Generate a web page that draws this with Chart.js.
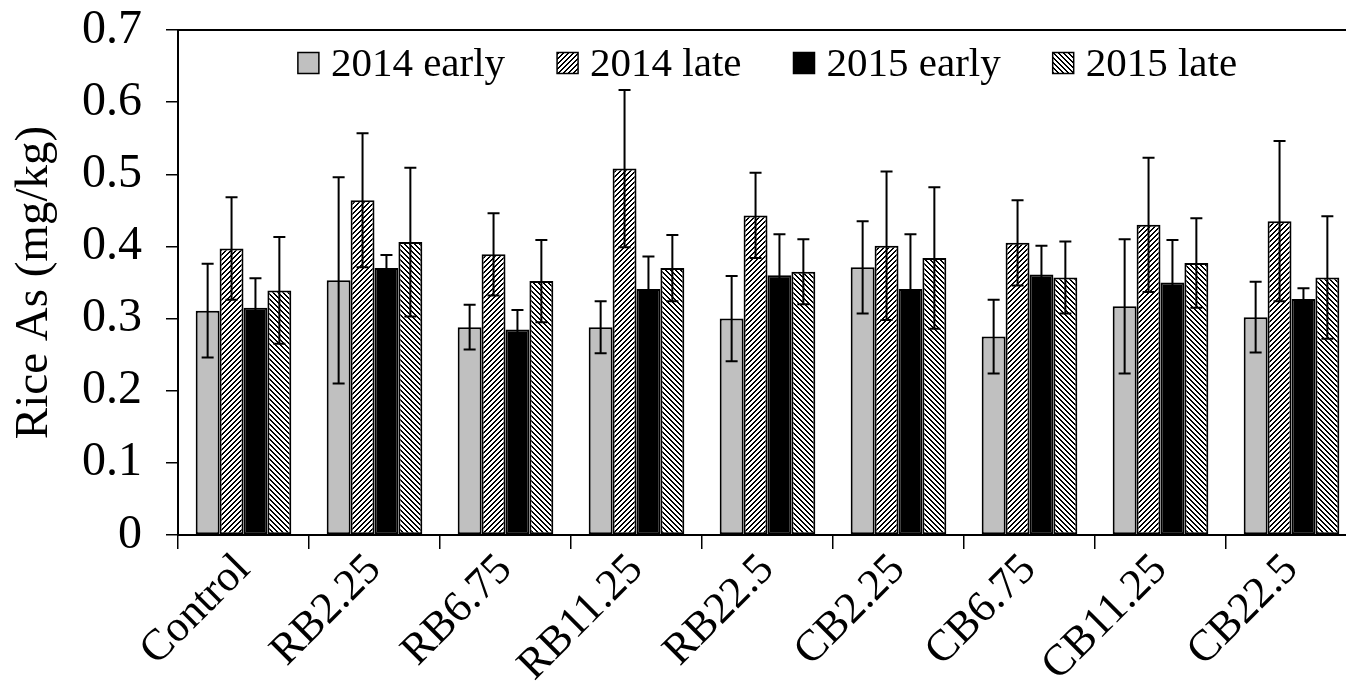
<!DOCTYPE html>
<html>
<head>
<meta charset="utf-8">
<script src="https://cdn.jsdelivr.net/npm/chart.js@4.4.1/dist/chart.umd.min.js"></script>
<style>
  html, body { margin: 0; padding: 0; background: #fff; overflow: hidden; }
  #wrap { width: 1357px; height: 686px; }
</style>
</head>
<body>
<div id="wrap"><canvas id="chart"></canvas></div>
<script>
// treatments on the x axis
const categories = ['Control', 'RB2.25', 'RB6.75', 'RB11.25', 'RB22.5', 'CB2.25', 'CB6.75', 'CB11.25', 'CB22.5'];
const seriesNames = ['2014 early', '2014 late', '2015 early', '2015 late'];

// mean rice As (mg/kg)
const early2014 = [0.311, 0.353, 0.288, 0.288, 0.300, 0.371, 0.275, 0.317, 0.302];
const late2014  = [0.397, 0.464, 0.389, 0.508, 0.443, 0.401, 0.405, 0.430, 0.435];
const early2015 = [0.315, 0.370, 0.285, 0.341, 0.360, 0.341, 0.361, 0.350, 0.327];
const late2015  = [0.339, 0.406, 0.352, 0.370, 0.365, 0.384, 0.357, 0.377, 0.357];

// standard deviations (error bars)
const early2014Err = [0.065, 0.143, 0.031, 0.036, 0.059, 0.064, 0.051, 0.093, 0.049];
const late2014Err  = [0.071, 0.093, 0.057, 0.109, 0.059, 0.103, 0.059, 0.093, 0.111];
const early2015Err = [0.041, 0.018, 0.027, 0.045, 0.057, 0.076, 0.040, 0.059, 0.015];
const late2015Err  = [0.074, 0.103, 0.057, 0.046, 0.045, 0.098, 0.050, 0.062, 0.085];

const yMin = 0, yMax = 0.7, yStep = 0.1;

const FONT = "'Liberation Serif', 'Times New Roman', serif";
const canvas = document.getElementById('chart');
const ctx = canvas.getContext('2d');

// pixel hatch patterns like Excel's diagonal fills
function hatch(dir) {
    const n = 5;
    const c = document.createElement('canvas');
    c.width = n; c.height = n;
    const g = c.getContext('2d');
    const img = g.createImageData(n, n);
    for (let y = 0; y < n; y++) {
        for (let x = 0; x < n; x++) {
            const k = dir === 'up' ? (x + y) % n : ((x - y) % n + n) % n;
            const v = k < 2 ? 0 : 255;
            const i = (y * n + x) * 4;
            img.data[i] = img.data[i + 1] = img.data[i + 2] = v;
            img.data[i + 3] = 255;
        }
    }
    g.putImageData(img, 0, 0);
    return ctx.createPattern(c, 'repeat');
}

const fills = ['#c0c0c0', hatch('up'), '#000000', hatch('down')];
const values = [early2014, late2014, early2015, late2015];
const errors = [early2014Err, late2014Err, early2015Err, late2015Err];

const errorBars = {
    id: 'errorBars',
    afterDatasetsDraw(chart) {
        const c = chart.ctx;
        const y = chart.scales.y;
        c.save();
        c.strokeStyle = '#000';
        c.lineWidth = 2;
        chart.data.datasets.forEach((ds, i) => {
            chart.getDatasetMeta(i).data.forEach((bar, j) => {
                const top = y.getPixelForValue(ds.data[j] + ds.errors[j]);
                const bot = y.getPixelForValue(ds.data[j] - ds.errors[j]);
                c.beginPath();
                c.moveTo(bar.x, top); c.lineTo(bar.x, bot);
                c.moveTo(bar.x - 6, top); c.lineTo(bar.x + 6, top);
                c.moveTo(bar.x - 6, bot); c.lineTo(bar.x + 6, bot);
                c.stroke();
            });
        });
        c.restore();
    }
};

// top border of the plot area + legend drawn inside it
const frameAndLegend = {
    id: 'frameAndLegend',
    afterDraw(chart) {
        const c = chart.ctx;
        const a = chart.chartArea;
        c.save();
        c.strokeStyle = '#000';
        c.lineWidth = 2;
        c.beginPath();
        c.moveTo(a.left, a.top); c.lineTo(a.right, a.top);
        c.stroke();

        c.font = '41px ' + FONT;
        c.textBaseline = 'middle';
        const box = 21, gapText = 12, gapItem = 52;
        const widths = chart.data.datasets.map(ds => box + gapText + c.measureText(ds.label).width);
        const total = widths.reduce((s, w) => s + w, 0) + gapItem * (widths.length - 1);
        let x = (a.left + a.right) / 2 - total / 2;
        const yc = a.top + 33;
        chart.data.datasets.forEach((ds, i) => {
            c.fillStyle = ds.backgroundColor;
            c.fillRect(x, yc - box / 2, box, box);
            c.lineWidth = 1.5;
            c.strokeRect(x, yc - box / 2, box, box);
            c.fillStyle = '#000';
            c.fillText(ds.label, x + box + gapText, yc + 2);
            x += widths[i] + gapItem;
        });
        c.restore();
    }
};

new Chart(ctx, {
    type: 'bar',
    data: {
        labels: categories,
        datasets: seriesNames.map((name, i) => ({
            label: name,
            data: values[i],
            errors: errors[i],
            backgroundColor: fills[i],
            borderColor: '#000',
            borderWidth: 2,
            borderSkipped: false,
            categoryPercentage: 0.73,
            barPercentage: 1.0
        }))
    },
    options: {
        responsive: true,
        maintainAspectRatio: false,
        animation: false,
        layout: { padding: { top: 30, left: 0, right: 0, bottom: 0 } },
        plugins: {
            legend: { display: false },
            tooltip: { enabled: false }
        },
        scales: {
            x: {
                grid: { display: true, drawOnChartArea: false, drawTicks: true, tickLength: 14, color: '#000', lineWidth: 1.5, offset: true },
                border: { display: true, color: '#000', width: 2 },
                ticks: { color: '#000', font: { family: FONT, size: 44 }, maxRotation: 45, minRotation: 45, padding: -5 },
                afterFit(scale) { scale.height = 151; }
            },
            y: {
                min: yMin,
                max: yMax,
                grid: { display: true, drawOnChartArea: false, drawTicks: true, tickLength: 12, color: '#000', lineWidth: 1.5 },
                border: { display: true, color: '#000', width: 2 },
                ticks: {
                    stepSize: yStep,
                    color: '#000',
                    padding: 24,
                    font: { family: FONT, size: 48, lineHeight: 0.2 },
                    callback: v => String(Number(v.toFixed(1)))
                },
                title: { display: true, text: 'Rice As (mg/kg)', color: '#000', font: { family: FONT, size: 47 }, padding: { top: 6, bottom: 4 } },
                afterFit(scale) { scale.width = 178; }
            }
        }
    },
    plugins: [errorBars, frameAndLegend]
});
</script>
</body>
</html>
